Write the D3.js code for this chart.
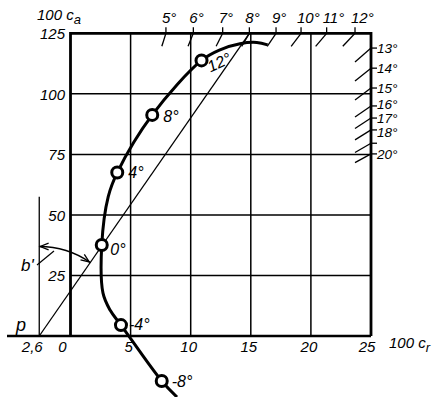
<!DOCTYPE html>
<html><head><meta charset="utf-8">
<script src="https://cdn.jsdelivr.net/npm/d3@7"></script>
<style>
body{margin:0;background:#fff}
svg{display:block}
text{font-family:"Liberation Sans",Arial,sans-serif;font-style:italic;fill:#000}
</style>
</head><body><svg id="c" width="436" height="397"></svg>
<script>
// ---- data ----
const xTicks = [0, 5, 10, 15, 20, 25];
const yTicks = [25, 50, 75, 100, 125];
const pCr = -2.6;                 // point p on the c_r axis
const pLabel = "2,6";
// polar curve (100 c_r, 100 c_a), top end to bottom end
const polarCr = [16.4, 15.5, 14.1, 12.44, 10.9, 6.8, 3.89, 3.14, 2.6, 2.7, 3.29, 4.2, 7.59, 8.86];
const polarCa = [120.2, 121.2, 120.7, 118.2, 113.8, 91.3, 67.5, 57.6, 37.6, 17.8, 10.7, 4.5, -18.6, -25.2];
// marked angles of attack
const markLabels = ["12°", "8°", "4°", "0°", "-4°", "-8°"];
const markCr = [10.9, 6.8, 3.89, 2.6, 4.2, 7.59];
const markCa = [113.8, 91.3, 67.5, 37.6, 4.5, -18.6];
// glide-angle scale on the frame
const topLabels = ["5°", "6°", "7°", "8°", "9°", "10°", "11°", "12°"];
const topTickCr = [7.94, 10.22, 12.66, 14.88, 17.1, 19.18, 21.31, 23.67];
const rightLabels = ["13°", "14°", "15°", "16°", "17°", "18°", "", "20°"];
const rightTickCa = [118.9, 110.6, 102.4, 95.0, 90.0, 85.1, 79.6, 75.2];
const tangentTopCr = 14.88;   // tangent from p meets the top frame at 8°

// ---- drawing ----
const svg = d3.select("#c");
const x = d3.scaleLinear().domain([0, 25]).range([70.5, 371]);
const y = d3.scaleLinear().domain([0, 125]).range([336, 33.3]);
const X0 = x(0), X1 = x(25), Y0 = y(0), Y1 = y(125);

// grid
const g = svg.append("g").attr("stroke", "#000").attr("fill", "none");
g.selectAll(".vg").data(xTicks.filter(d => d > 0 && d < 25)).join("line")
  .attr("x1", d => x(d)).attr("x2", d => x(d)).attr("y1", Y0).attr("y2", Y1)
  .attr("stroke-width", 1.5);
g.selectAll(".hg").data(yTicks.filter(d => d < 125)).join("line")
  .attr("x1", X0).attr("x2", X1).attr("y1", d => y(d)).attr("y2", d => y(d))
  .attr("stroke-width", 1.5);

// frame
g.append("path").attr("d", `M${X0},${Y0}V${Y1}H${X1}V${Y0}`).attr("stroke-width", 2.8);
g.append("line").attr("x1", 7).attr("x2", X1).attr("y1", Y0).attr("y2", Y0).attr("stroke-width", 2.4);

// p vertical and tangent line
const px = x(pCr);
g.append("line").attr("x1", px).attr("x2", px).attr("y1", Y0).attr("y2", y(57.5)).attr("stroke-width", 1.3);
g.append("line").attr("x1", px).attr("y1", Y0).attr("x2", x(tangentTopCr)).attr("y2", Y1).attr("stroke-width", 1.3);

// angle arc b'
const ang = Math.atan2(x(tangentTopCr) - px, Y0 - Y1);
const R = 89.5;
const ap = d3.path();
ap.arc(px, Y0, R, -Math.PI / 2, -Math.PI / 2 + ang, false);
g.append("path").attr("d", ap.toString()).attr("stroke-width", 1.3);
function arrowHead(tx, ty, dir) { // dir = direction the arrow points (radians)
  const L = 9, h = 0.38;
  const a1 = dir + Math.PI - h, a2 = dir + Math.PI + h;
  g.append("path").attr("d",
    `M${tx + L * Math.cos(a1)},${ty + L * Math.sin(a1)}L${tx},${ty}L${tx + L * Math.cos(a2)},${ty + L * Math.sin(a2)}`)
    .attr("stroke-width", 1.3);
}
arrowHead(px + 1, Y0 - R, Math.PI);  // pointing left at vertical
const ex = px + R * Math.sin(ang), ey = Y0 - R * Math.cos(ang);
arrowHead(ex - 1, ey - 0.5, ang);      // tangent direction at end (clockwise)
g.append("line").attr("x1", 37).attr("y1", 265).attr("x2", 54).attr("y2", 251).attr("stroke-width", 1.2);

// glide-angle ticks: top
topTickCr.forEach((c, i) => {
  const tx = x(c);
  const dx = tx - X0, dy = Y0 - Y1;
  const t = 13 / dy;
  g.append("line").attr("x1", tx).attr("y1", Y1 - 6).attr("x2", tx).attr("y2", Y1).attr("stroke-width", 1.3);
  g.append("line").attr("x1", tx).attr("y1", Y1).attr("x2", tx - dx * t).attr("y2", Y1 + 13).attr("stroke-width", 1.3);
  svg.append("text").attr("x", tx - 4).attr("y", 23).attr("font-size", 15).text(topLabels[i]);
});
// right
const rightShift = [5, 5, 5, 3, 4.8, 7.5, 5, 5];
rightTickCa.forEach((c, i) => {
  const ty = y(c);
  const dx = X1 - px, dy = Y0 - ty;
  const t = 16 / dx;
  g.append("line").attr("x1", X1).attr("y1", ty).attr("x2", X1 + 6).attr("y2", ty).attr("stroke-width", 1.3);
  g.append("line").attr("x1", X1).attr("y1", ty).attr("x2", X1 - 16).attr("y2", ty + dy * t).attr("stroke-width", 1.3);
  svg.append("text").attr("x", 377).attr("y", ty + rightShift[i]).attr("font-size", 13.5).text(rightLabels[i]);
});

// polar curve
const pts = polarCr.map((c, i) => [x(c), y(polarCa[i])]);
svg.append("path").attr("d", d3.line().curve(d3.curveCatmullRom.alpha(0.5))(pts))
  .attr("fill", "none").attr("stroke", "#000").attr("stroke-width", 3);
svg.selectAll(".mk").data(markCr).join("circle")
  .attr("cx", d => x(d)).attr("cy", (d, i) => y(markCa[i])).attr("r", 5.5)
  .attr("fill", "#fff").attr("stroke", "#000").attr("stroke-width", 3);
const nudge = [[9, 12, -25], [11, 7, 0], [11, 5, 0], [8.5, 10, 0], [8, 5, 0], [10, 6, 0]];
markLabels.forEach((t, i) => {
  const cx = x(markCr[i]) + nudge[i][0], cy = y(markCa[i]) + nudge[i][1];
  svg.append("text").attr("x", cx).attr("y", cy).attr("font-size", 16)
    .attr("transform", nudge[i][2] ? `rotate(${nudge[i][2]},${cx},${cy})` : null).text(t);
});

// axis tick labels
yTicks.forEach(v => {
  svg.append("text").attr("x", 65).attr("y", y(v) + 6).attr("text-anchor", "end").attr("font-size", 15).text(v);
});
xTicks.forEach(v => {
  const ox = v === 0 ? -8 : (v === 25 ? -4 : -2);
  svg.append("text").attr("x", x(v) + ox).attr("y", 352).attr("text-anchor", "middle").attr("font-size", 15).text(v);
});
svg.append("text").attr("x", px - 7).attr("y", 352).attr("text-anchor", "middle").attr("font-size", 15).text(pLabel);

// annotations
svg.append("text").attr("x", 16).attr("y", 331).attr("font-size", 18).text("p");
svg.append("text").attr("x", 21).attr("y", 271).attr("font-size", 17).text("b'");
const ca = svg.append("text").attr("x", 37).attr("y", 20).attr("font-size", 15);
ca.append("tspan").text("100 c");
ca.append("tspan").attr("font-size", 13).attr("dy", 4).text("a");
const cr = svg.append("text").attr("x", 389).attr("y", 348).attr("font-size", 15);
cr.append("tspan").text("100 c");
cr.append("tspan").attr("font-size", 13).attr("dy", 4).text("r");
</script>
</body></html>
